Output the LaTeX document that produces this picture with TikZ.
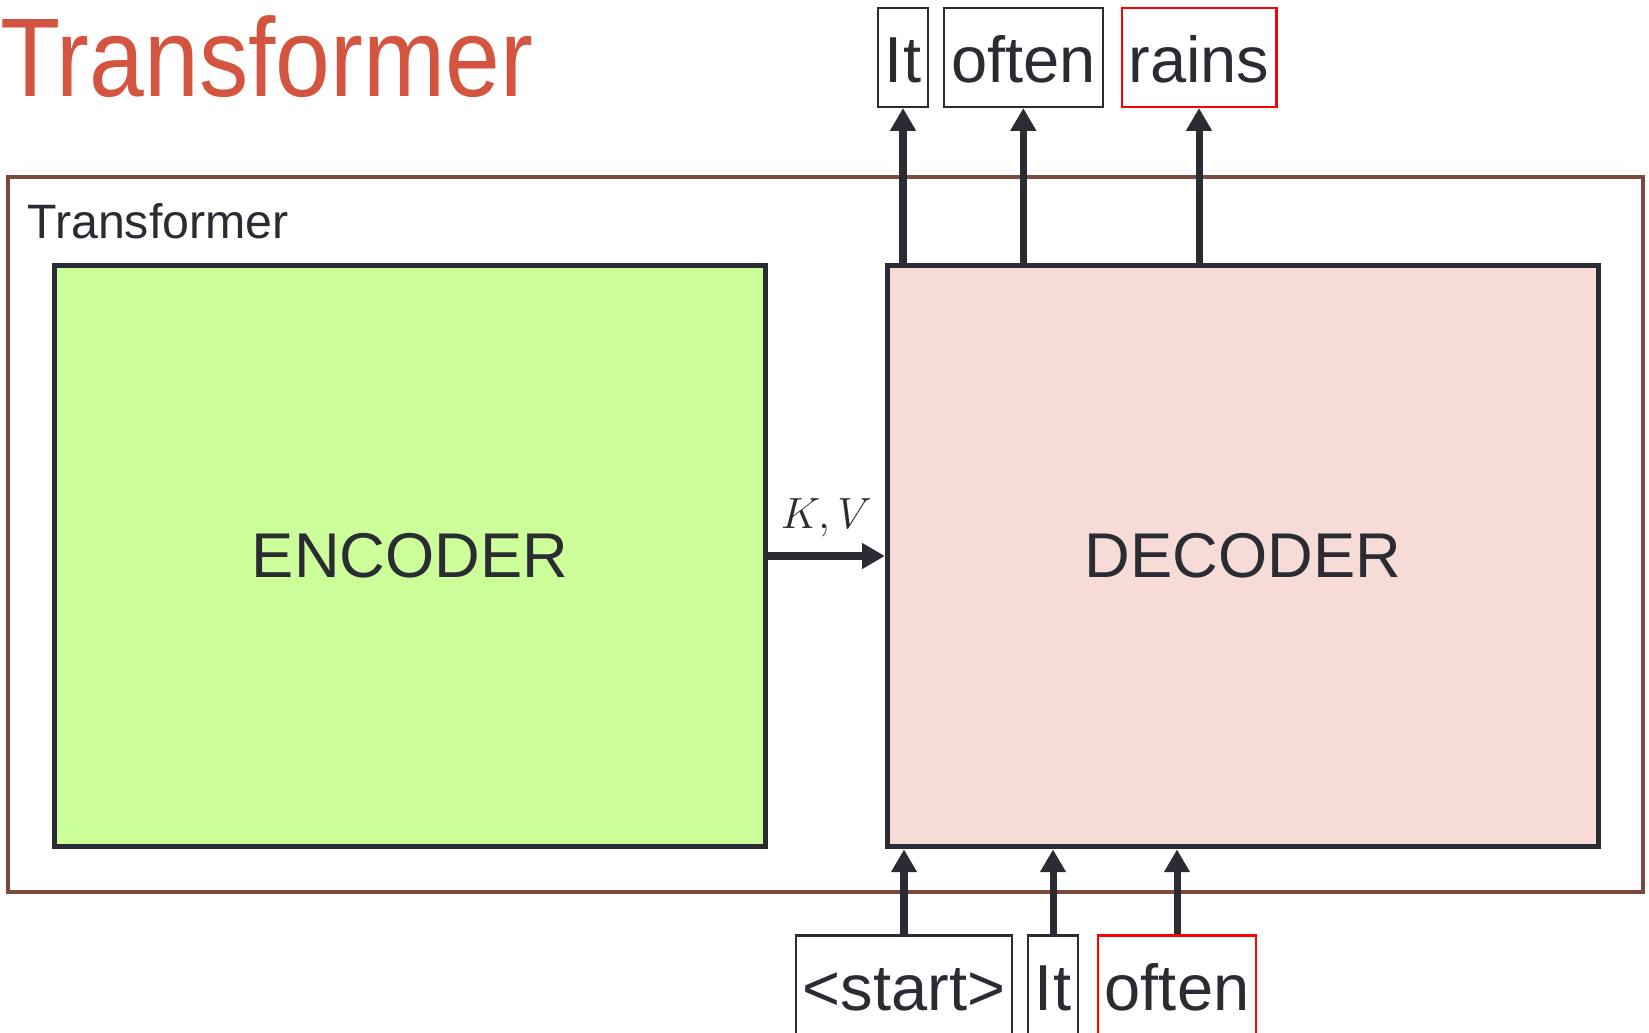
\documentclass[tikz,border=0pt]{standalone}
\usepackage{fontspec}
\setmainfont{Liberation Sans}
\usetikzlibrary{arrows.meta,positioning}

\definecolor{ink}{RGB}{43,43,52}
\definecolor{framebrown}{RGB}{122,74,62}
\definecolor{titlered}{RGB}{212,85,63}
\definecolor{encgreen}{RGB}{204,255,153}
\definecolor{decpink}{RGB}{246,219,214}

\begin{document}
\begin{tikzpicture}[
    x=0.02cm, y=-0.02cm,
    block/.style={draw=ink, line width=2.8pt, minimum width=14.22cm,
                  minimum height=11.64cm, inner sep=0pt, text=ink,
                  font=\fontsize{36}{40}\selectfont},
    word/.style={draw=ink, line width=1.2pt, minimum height=1.98cm,
                 inner xsep=0.14cm, text=ink, text height=1.0cm,
                 text depth=0pt, font=\fontsize{37}{40}\selectfont},
    newword/.style={word, draw=red},
    arr/.style={-{Triangle[length=13pt, width=14pt]}, line width=4pt, draw=ink},
    node distance=2.34cm
  ]
  \useasboundingbox (0,0) rectangle (1649,1033);

  \node[anchor=base west, inner sep=0pt, text=titlered,
        font=\fontsize{63.7}{66}\selectfont] (title) at (0,97)
    {\scalebox{0.88}[1]{Transformer}};

  \node[draw=framebrown, line width=2.2pt, minimum width=32.7cm,
        minimum height=14.3cm, inner sep=0pt] (frame) at (825.5,534.5) {};
  \node[anchor=base west, inner sep=0pt, text=ink,
        font=\fontsize{27.5}{30}\selectfont] (framelabel) at (27,239) {Transformer};

  \node[block, fill=encgreen] (enc) at (410,556) {ENCODER};
  \node[block, fill=decpink, right=of enc] (dec) {DECODER};

  \draw[arr] (enc.east) -- (dec.west)
    node[midway, above=0.2cm, text=ink, font=\fontsize{25}{27}\selectfont] (kv) {$K,V$};

  % outputs
  \node[word] (out1) at (903,57.5) {It};
  \node[word] (out2) at (1023.3,57.5) {often};
  \node[newword] (out3) at (1199,57.5) {rains};

  % shifted inputs
  \node[word] (in1) at (904,985) {<start>};
  \node[word] (in2) at (1053,985) {It};
  \node[newword] (in3) at (1177,985) {often};

  \foreach \w in {out1,out2,out3}
    \draw[arr] (\w |- dec.north) -- (\w.south);
  \foreach \w in {in1,in2,in3}
    \draw[arr] (\w.north) -- (\w |- dec.south);
\end{tikzpicture}
\end{document}
